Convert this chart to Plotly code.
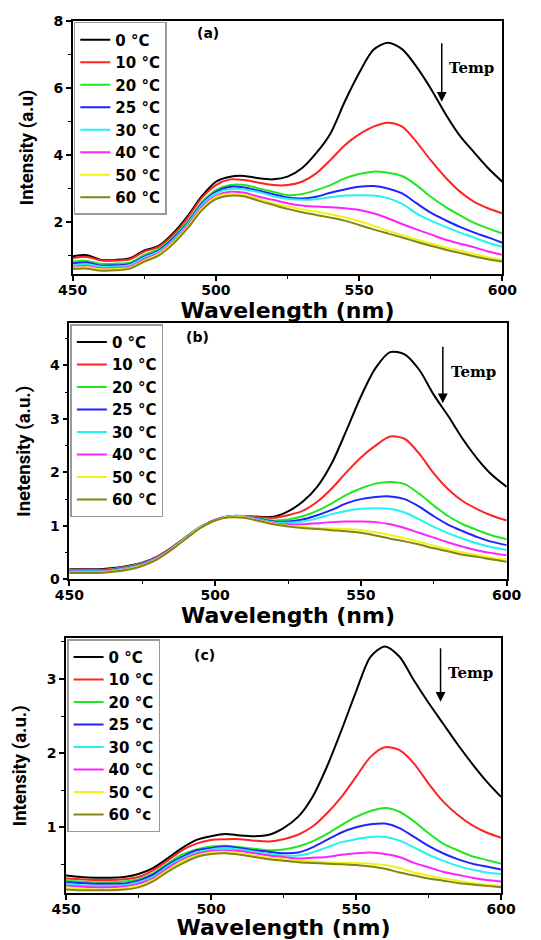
import plotly.graph_objects as go

WL = list(range(450, 601, 5))
LABELS = ["0", "10", "20", "25", "30", "40", "50", "60"]
COLORS = ["#000000", "#ff2424", "#22e622", "#2222ff", "#22f2f2", "#ff22ff", "#f2f214", "#858514"]

A = [
    [0.99, 1.02, 0.88, 0.88, 0.93, 1.16, 1.30, 1.67, 2.17, 2.77, 3.21, 3.36, 3.38, 3.31, 3.28, 3.36, 3.61, 4.06, 4.65, 5.60, 6.45, 7.14, 7.35, 7.16, 6.64, 5.99, 5.25, 4.60, 4.10, 3.62, 3.21],
    [0.93, 0.97, 0.86, 0.86, 0.90, 1.13, 1.27, 1.62, 2.12, 2.72, 3.11, 3.28, 3.26, 3.18, 3.11, 3.11, 3.21, 3.46, 3.86, 4.30, 4.62, 4.85, 4.97, 4.85, 4.40, 3.85, 3.35, 2.93, 2.62, 2.42, 2.27],
    [0.83, 0.85, 0.76, 0.77, 0.80, 1.03, 1.20, 1.55, 2.02, 2.59, 2.96, 3.11, 3.11, 3.01, 2.91, 2.81, 2.84, 2.96, 3.11, 3.31, 3.44, 3.51, 3.48, 3.38, 3.11, 2.76, 2.47, 2.22, 1.99, 1.82, 1.67],
    [0.78, 0.80, 0.71, 0.72, 0.76, 0.98, 1.16, 1.51, 1.97, 2.55, 2.91, 3.06, 3.04, 2.94, 2.84, 2.74, 2.71, 2.76, 2.88, 2.98, 3.06, 3.08, 3.01, 2.86, 2.57, 2.29, 2.07, 1.87, 1.70, 1.55, 1.39],
    [0.73, 0.75, 0.68, 0.68, 0.73, 0.95, 1.13, 1.47, 1.94, 2.51, 2.86, 2.99, 2.98, 2.90, 2.78, 2.70, 2.67, 2.69, 2.75, 2.80, 2.81, 2.80, 2.72, 2.55, 2.27, 2.05, 1.87, 1.70, 1.55, 1.39, 1.27],
    [0.68, 0.70, 0.63, 0.64, 0.68, 0.90, 1.08, 1.42, 1.89, 2.45, 2.79, 2.91, 2.88, 2.76, 2.67, 2.57, 2.50, 2.47, 2.45, 2.42, 2.37, 2.27, 2.12, 1.95, 1.79, 1.64, 1.49, 1.37, 1.26, 1.13, 1.03],
    [0.65, 0.66, 0.60, 0.61, 0.65, 0.86, 1.05, 1.39, 1.85, 2.40, 2.75, 2.85, 2.82, 2.69, 2.57, 2.47, 2.39, 2.32, 2.24, 2.15, 2.04, 1.90, 1.75, 1.62, 1.49, 1.37, 1.26, 1.16, 1.06, 0.96, 0.88],
    [0.61, 0.62, 0.56, 0.57, 0.62, 0.83, 1.01, 1.35, 1.81, 2.35, 2.69, 2.79, 2.77, 2.64, 2.52, 2.40, 2.30, 2.22, 2.14, 2.05, 1.92, 1.79, 1.67, 1.55, 1.42, 1.30, 1.19, 1.09, 0.99, 0.90, 0.83],
]

B = [
    [0.19, 0.19, 0.19, 0.21, 0.25, 0.31, 0.42, 0.59, 0.79, 0.98, 1.11, 1.18, 1.18, 1.17, 1.17, 1.27, 1.45, 1.73, 2.17, 2.78, 3.42, 3.95, 4.25, 4.21, 3.92, 3.45, 3.05, 2.62, 2.25, 1.95, 1.73],
    [0.18, 0.18, 0.18, 0.20, 0.24, 0.31, 0.42, 0.59, 0.79, 0.98, 1.11, 1.18, 1.18, 1.16, 1.15, 1.20, 1.28, 1.45, 1.70, 2.00, 2.28, 2.50, 2.67, 2.63, 2.35, 1.98, 1.68, 1.46, 1.31, 1.19, 1.10],
    [0.17, 0.17, 0.17, 0.19, 0.23, 0.30, 0.41, 0.58, 0.78, 0.98, 1.11, 1.18, 1.18, 1.14, 1.10, 1.12, 1.18, 1.28, 1.42, 1.58, 1.70, 1.79, 1.82, 1.78, 1.60, 1.38, 1.18, 1.03, 0.92, 0.82, 0.75],
    [0.16, 0.16, 0.16, 0.18, 0.22, 0.29, 0.41, 0.58, 0.78, 0.98, 1.11, 1.18, 1.18, 1.13, 1.08, 1.08, 1.12, 1.20, 1.30, 1.42, 1.50, 1.54, 1.55, 1.50, 1.36, 1.18, 1.02, 0.90, 0.79, 0.70, 0.64],
    [0.15, 0.15, 0.15, 0.17, 0.21, 0.28, 0.40, 0.57, 0.78, 0.98, 1.11, 1.18, 1.18, 1.12, 1.07, 1.06, 1.08, 1.14, 1.22, 1.28, 1.32, 1.33, 1.32, 1.25, 1.12, 0.98, 0.86, 0.76, 0.67, 0.60, 0.55],
    [0.14, 0.14, 0.14, 0.16, 0.20, 0.27, 0.39, 0.57, 0.77, 0.97, 1.11, 1.17, 1.17, 1.11, 1.05, 1.03, 1.03, 1.05, 1.07, 1.08, 1.08, 1.07, 1.03, 0.96, 0.87, 0.78, 0.69, 0.61, 0.54, 0.49, 0.45],
    [0.13, 0.13, 0.13, 0.15, 0.19, 0.26, 0.38, 0.56, 0.77, 0.97, 1.10, 1.17, 1.16, 1.10, 1.04, 1.00, 0.98, 0.96, 0.95, 0.94, 0.92, 0.88, 0.83, 0.77, 0.70, 0.63, 0.56, 0.50, 0.45, 0.40, 0.37],
    [0.12, 0.12, 0.12, 0.14, 0.18, 0.25, 0.37, 0.55, 0.76, 0.96, 1.10, 1.16, 1.15, 1.09, 1.03, 0.99, 0.96, 0.94, 0.92, 0.90, 0.87, 0.82, 0.76, 0.71, 0.65, 0.58, 0.52, 0.46, 0.42, 0.37, 0.33],
]

C = [
    [0.35, 0.33, 0.32, 0.32, 0.33, 0.37, 0.45, 0.58, 0.72, 0.83, 0.88, 0.91, 0.89, 0.88, 0.90, 0.99, 1.14, 1.41, 1.82, 2.31, 2.83, 3.30, 3.44, 3.30, 2.98, 2.68, 2.40, 2.12, 1.86, 1.62, 1.41],
    [0.31, 0.30, 0.29, 0.29, 0.30, 0.33, 0.42, 0.55, 0.69, 0.78, 0.83, 0.84, 0.84, 0.82, 0.81, 0.84, 0.90, 1.01, 1.19, 1.41, 1.68, 1.95, 2.08, 2.04, 1.86, 1.59, 1.35, 1.17, 1.03, 0.93, 0.86],
    [0.28, 0.27, 0.26, 0.26, 0.27, 0.30, 0.38, 0.51, 0.63, 0.70, 0.74, 0.75, 0.73, 0.71, 0.69, 0.70, 0.74, 0.81, 0.91, 1.03, 1.14, 1.22, 1.26, 1.21, 1.08, 0.92, 0.78, 0.69, 0.61, 0.56, 0.51],
    [0.26, 0.25, 0.24, 0.24, 0.24, 0.28, 0.36, 0.49, 0.60, 0.69, 0.72, 0.74, 0.72, 0.69, 0.67, 0.65, 0.66, 0.73, 0.83, 0.93, 1.00, 1.04, 1.05, 0.99, 0.87, 0.75, 0.65, 0.57, 0.51, 0.47, 0.43],
    [0.24, 0.22, 0.21, 0.21, 0.22, 0.26, 0.33, 0.47, 0.58, 0.66, 0.70, 0.72, 0.70, 0.67, 0.64, 0.62, 0.62, 0.66, 0.73, 0.80, 0.84, 0.87, 0.87, 0.82, 0.73, 0.63, 0.55, 0.48, 0.43, 0.39, 0.37],
    [0.21, 0.20, 0.19, 0.19, 0.20, 0.24, 0.31, 0.45, 0.56, 0.64, 0.68, 0.69, 0.68, 0.65, 0.62, 0.60, 0.58, 0.59, 0.60, 0.63, 0.65, 0.66, 0.64, 0.60, 0.52, 0.46, 0.40, 0.36, 0.32, 0.29, 0.27],
    [0.19, 0.17, 0.16, 0.16, 0.18, 0.21, 0.29, 0.42, 0.54, 0.62, 0.66, 0.67, 0.65, 0.62, 0.59, 0.57, 0.55, 0.54, 0.53, 0.52, 0.52, 0.51, 0.49, 0.45, 0.39, 0.35, 0.31, 0.28, 0.25, 0.23, 0.21],
    [0.16, 0.15, 0.15, 0.15, 0.16, 0.19, 0.27, 0.40, 0.51, 0.60, 0.64, 0.65, 0.63, 0.60, 0.57, 0.55, 0.53, 0.52, 0.51, 0.50, 0.49, 0.47, 0.44, 0.39, 0.35, 0.31, 0.28, 0.25, 0.23, 0.21, 0.19],
]

PANELS = [
    dict(data=A, tag="(a)", ytitle="Intensity (a.u)", unit="C", yrange=[0.46, 8.0], dtick=2, minor=1,
         xdom=[0.1344, 0.9285], ydom=[0.7085, 0.9777]),
    dict(data=B, tag="(b)", ytitle="Inetensity (a.u.)", unit="C", yrange=[0.0, 4.79], dtick=1, minor=0.5,
         xdom=[0.1281, 0.9366], ydom=[0.3837, 0.6561]),
    dict(data=C, tag="(c)", ytitle="Intensity (a.u.)", unit="c", yrange=[0.11, 3.55], dtick=1, minor=0.5,
         xdom=[0.1220, 0.9261], ydom=[0.0497, 0.3210]),
]

BOLD = dict(family="DejaVu Sans", weight="bold", color="black")
fig = go.Figure()
layout = dict(width=541, height=940, margin=dict(l=0, r=0, t=0, b=0, pad=0, autoexpand=False),
              paper_bgcolor="white", plot_bgcolor="white", annotations=[])

for p, P in enumerate(PANELS):
    sfx = "" if p == 0 else str(p + 1)
    leg = "legend" + sfx
    for i, lab in enumerate(LABELS):
        unit = P["unit"] if i == len(LABELS) - 1 else "C"
        fig.add_trace(go.Scatter(
            x=WL, y=P["data"][i], mode="lines",
            line=dict(color=COLORS[i], width=2, shape="spline", smoothing=0.8),
            name=f"{lab} \u00b0{unit}", xaxis="x" + sfx, yaxis="y" + sfx, legend=leg))
    layout["xaxis" + sfx] = dict(
        domain=P["xdom"], anchor="y" + sfx, range=[450, 600], dtick=50, tick0=450, automargin=False,
        showline=True, linecolor="black", linewidth=1.5, mirror=True, showgrid=False, zeroline=False,
        ticks="outside", ticklen=5, tickwidth=1.5, tickcolor="black", ticklabelstandoff=-3,
        minor=dict(dtick=25, ticks="outside", ticklen=3, tickwidth=1.2, tickcolor="black", showgrid=False),
        tickfont=dict(size=14, **BOLD),
        title=dict(text="Wavelength (nm)", font=dict(size=22, **BOLD), standoff=3))
    layout["yaxis" + sfx] = dict(
        domain=P["ydom"], anchor="x" + sfx, range=P["yrange"], dtick=P["dtick"], tick0=0, automargin=False,
        showline=True, linecolor="black", linewidth=1.5, mirror=True, showgrid=False, zeroline=False,
        ticks="outside", ticklen=5, tickwidth=1.5, tickcolor="black",
        minor=dict(dtick=P["minor"], ticks="outside", ticklen=3, tickwidth=1.2, tickcolor="black", showgrid=False),
        tickfont=dict(size=14, **BOLD),
        title=dict(text=P["ytitle"], font=dict(size=18.5, family="Roboto", weight="bold", color="black"), standoff=15))
    layout[leg] = dict(
        x=P["xdom"][0] + 0.002, y=P["ydom"][1] - 0.001, xanchor="left", yanchor="top",
        bgcolor="white", bordercolor="#999999", borderwidth=1.5,
        font=dict(size=15, **BOLD), itemwidth=30)
    xr, yr = "x" + sfx + " domain", "y" + sfx + " domain"
    tagpos = [(0.314, 0.951), (0.293, 0.948), (0.318, 0.933)][p]
    layout["annotations"].append(dict(text=P["tag"], xref=xr, yref=yr, x=tagpos[0], y=tagpos[1],
                                      xanchor="center", yanchor="middle",
                                      showarrow=False, font=dict(size=14, **BOLD)))
    temppos = [(0.929, 0.816), (0.925, 0.81), (0.929, 0.864)][p]
    layout["annotations"].append(dict(text="Temp", xref=xr, yref=yr, x=temppos[0], y=temppos[1],
                                      xanchor="center", yanchor="middle", showarrow=False,
                                      font=dict(size=15, family="DejaVu Serif", weight="bold", color="black")))
    arr = [(0.859, 0.681, -60), (0.854, 0.6875, -58), (0.861, 0.751, -55)][p]
    layout["annotations"].append(dict(text="", xref=xr, yref=yr, x=arr[0], y=arr[1], ax=0, ay=arr[2],
                                      showarrow=True, arrowhead=2, arrowsize=1.3, arrowwidth=1.5, arrowcolor="black"))

fig.update_layout(**layout)
fig.write_html("out.html")
